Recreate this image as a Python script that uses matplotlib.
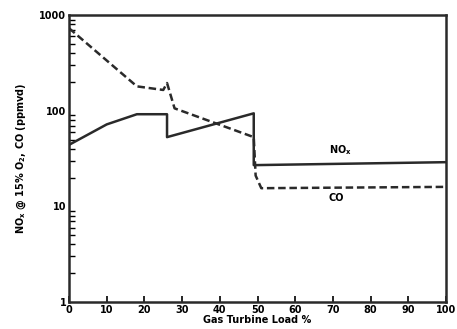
import matplotlib
matplotlib.use("Agg")
import matplotlib.pyplot as plt
from matplotlib.ticker import LogLocator, FixedLocator, NullFormatter

# Valeurs
charge_nox = [0, 10, 18, 26, 26, 49, 49, 100]
nox = [44, 72, 92, 92, 53, 94, 27, 29]

charge_co = [0, 18, 25, 26, 28, 49, 49.5, 51, 100]
co = [730, 180, 165, 195, 106, 53, 21, 15.5, 16]

x_ticks = [0, 10, 20, 30, 40, 50, 60, 70, 80, 90, 100]
y_ticks = [1, 10, 100, 1000]

plt.rcParams["font.family"] = "DejaVu Sans"
plt.rcParams["font.weight"] = "bold"
plt.rcParams["mathtext.default"] = "bf"

fig = plt.figure(figsize=(4.57, 3.29), dpi=100)
ax = fig.add_axes([0.151, 0.082, 0.825, 0.872])

ax.plot(charge_nox, nox, color="#2a2a2a", linewidth=1.8)
ax.plot(charge_co, co, color="#2a2a2a", linewidth=1.8, linestyle=(0, (3, 1.5)))

ax.set_yscale("log")
ax.set_xlim(0, 100)
ax.set_ylim(1, 1000)

ax.xaxis.set_major_locator(FixedLocator(x_ticks))
ax.set_xticklabels([str(t) for t in x_ticks], fontsize=7, fontweight="bold")
ax.yaxis.set_major_locator(FixedLocator(y_ticks))
ax.set_yticklabels([str(t) for t in y_ticks], fontsize=7, fontweight="bold")
ax.yaxis.set_minor_locator(LogLocator(base=10, subs=range(2, 10)))
ax.yaxis.set_minor_formatter(NullFormatter())

ax.tick_params(axis="x", direction="in", length=4, width=1.2, pad=2)
ax.tick_params(axis="y", which="major", direction="in", length=0, pad=2)
ax.tick_params(axis="y", which="minor", direction="in", length=4, width=1)

for s in ax.spines.values():
    s.set_linewidth(1.8)
    s.set_color("#2a2a2a")

ax.text(72, 38.5, "NO$_x$", fontsize=7, ha="center", va="center")
ax.text(71, 12.2, "CO", fontsize=7, ha="center", va="center")

ax.set_xlabel("Gas Turbine Load %", fontsize=7, fontweight="bold", labelpad=0)
ax.set_ylabel("NO$_x$ @ 15% O$_2$, CO (ppmvd)", fontsize=7, fontweight="bold", labelpad=8)

plt.savefig("out.png", dpi=100)
plt.close()
